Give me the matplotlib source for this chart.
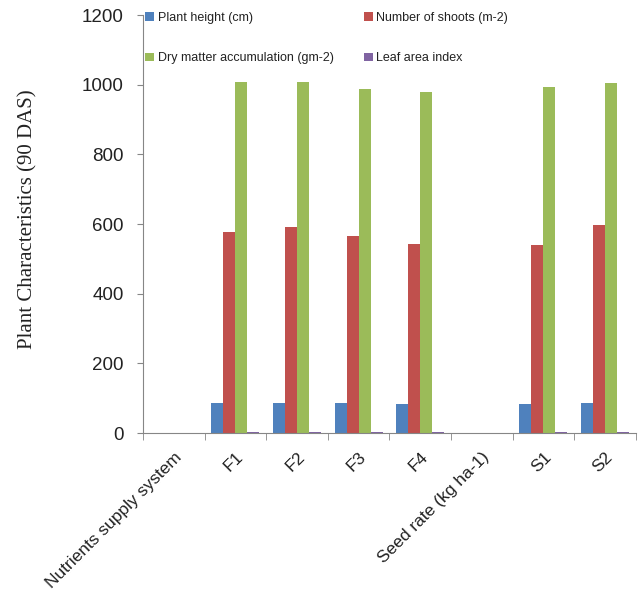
import numpy as np
import matplotlib
matplotlib.use('Agg')
import matplotlib.pyplot as plt

categories = ['Nutrients supply system', 'F1', 'F2', 'F3', 'F4', 'Seed rate (kg ha-1)', 'S1', 'S2']
series_names = ['Plant height (cm)', 'Number of shoots (m-2)',
                'Dry matter accumulation (gm-2)', 'Leaf area index']
plant_height = [0, 87, 87, 87, 84, 0, 84, 87]
shoots = [0, 577, 591, 567, 543, 0, 540, 598]
dry_matter = [0, 1008, 1008, 987, 980, 0, 992, 1005]
leaf_area = [0, 4.2, 4.3, 4.1, 4.0, 0, 4.0, 4.3]
colors = ['#4F81BD', '#C0504D', '#9BBB59', '#8064A2']

plt.rcParams['font.family'] = ['Liberation Sans', 'DejaVu Sans']

fig = plt.figure(figsize=(6.41, 6.08), dpi=100)
ax = fig.add_axes([0.2231, 0.2878, 0.7689, 0.6875])

x = np.arange(len(categories))
w = 0.195
data = [plant_height, shoots, dry_matter, leaf_area]
bars = []
for i, (vals, name, c) in enumerate(zip(data, series_names, colors)):
    bars.append(ax.bar(x + (i - 1.5) * w, vals, w, color=c, label=name))

ax.set_xlim(-0.5, len(categories) - 0.5)
ax.set_ylim(0, 1200)
ax.set_yticks(range(0, 1201, 200))
ax.tick_params(axis='y', labelsize=13.5, length=4, color='#868686', pad=10, labelcolor='#222222')
ax.set_xticks(np.arange(len(categories) + 1) - 0.5, minor=True)
ax.set_xticks(x)
ax.set_xticklabels(categories, rotation=45, ha='right', rotation_mode='anchor', fontsize=12.5,
                   color='#222222')
ax.tick_params(axis='x', which='major', length=0, pad=12)
ax.tick_params(axis='x', which='minor', length=5, color='#868686')
for s in ['top', 'right']:
    ax.spines[s].set_visible(False)
for s in ['left', 'bottom']:
    ax.spines[s].set_color('#868686')

ax.set_ylabel('Plant Characteristics (90 DAS)', family='Liberation Serif', fontsize=15,
              color='#222222')
ax.yaxis.set_label_coords(-0.214, 0.512)

# row-wise legend order: PH, NS / DM, LAI
order = [0, 2, 1, 3]
ax.legend([bars[i] for i in order], [series_names[i] for i in order],
          loc='upper left', bbox_to_anchor=(-0.018, 1.035), ncol=2, frameon=False, fontsize=9,
          handlelength=0.7, handleheight=0.7, handletextpad=0.3, columnspacing=2.4,
          labelspacing=2.3, labelcolor='#222222')

fig.savefig('out.png', dpi=100)
